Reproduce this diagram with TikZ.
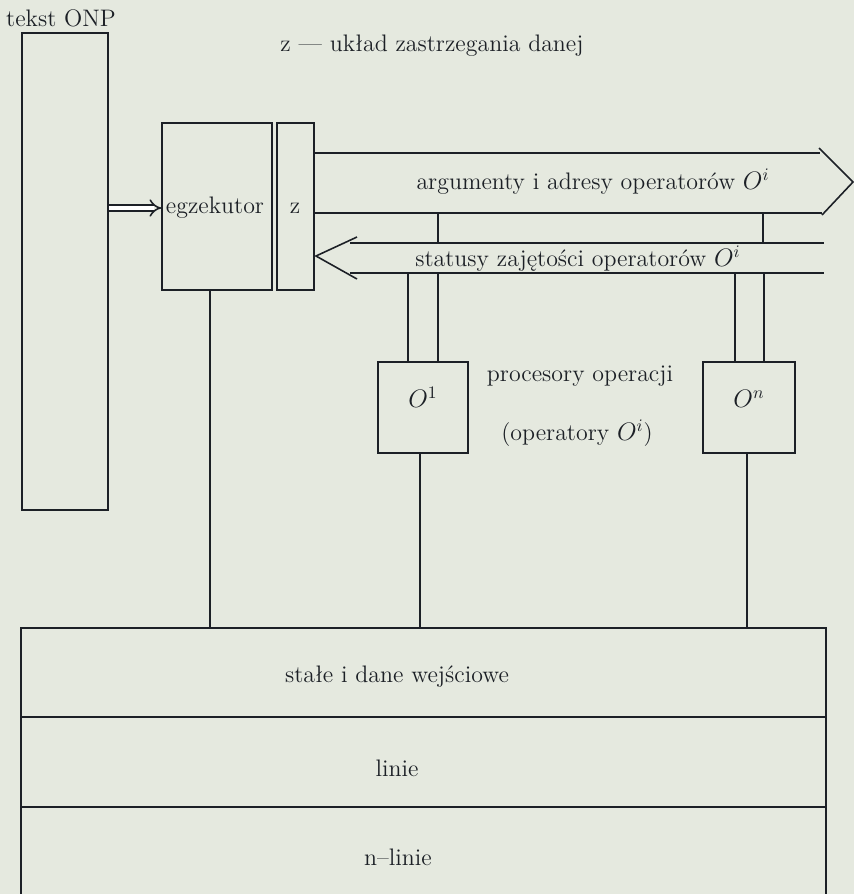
\documentclass[tikz,border=0pt]{standalone}
\usepackage{xcolor}
\usepackage{tikz}
\usetikzlibrary{positioning,arrows.meta,fit}

\definecolor{papier}{RGB}{229,233,223}
\definecolor{tusz}{RGB}{28,32,38}

\tikzset{
  blok/.style={draw=tusz, line width=0.9pt, inner sep=0pt},
  linia/.style={draw=tusz, line width=0.9pt},
}

\begin{document}
\begin{tikzpicture}[x=0.02cm, y=-0.02cm, every node/.style={text=tusz, font=\fontsize{13.6}{16}\selectfont}]
    \fill[papier] (0,0) rectangle (854,894);
    \useasboundingbox (0,0) rectangle (854,894);

    % Bloki
    \node[blok, fit={(22,33) (108,510)}] (onp) {};
    \node[blok, fit={(162,123) (272,290)}] (egz) {};
    \node[blok, fit={(277,123) (314,290)}] (zb) {};
    \node[blok, fit={(378,362) (468,453)}] (o1) {$O^1$};
    \node[blok, fit={(703,362) (795,453)}] (on) {$O^n$};
    \node[blok, fit={(21,628) (826,717)}] (stale) {};
    \node[blok, fit={(21,717) (826,807)}] (linie) {};
    \node[blok, fit={(21,807) (826,900)}] (nlinie) {};

    % Opisy
    \node (tonp) at (61,18) {tekst ONP};
    \node (tz) at (432,46) {z --- układ zastrzegania danej};
    \node (tegz) at (215,208) {egzekutor};
    \node (tzb) at (295,208) {z};
    \node (targ) at (593,182) {argumenty i adresy operatorów $O^i$};
    \node (tstat) at (578,259) {statusy zajętości operatorów $O^i$};
    \node (tproc) at (580,376) {procesory operacji};
    \node (topr) at (577,433) {(operatory $O^i$)};
    \node (tstale) at (397,677) {stałe i dane wejściowe};
    \node (tlinie) at (397,768) {linie};
    \node (tnlinie) at (398,857) {n--linie};

    % Pasmo argumentow (w prawo)
    \draw[linia] (zb.east |- 0,153) -- (820,153);
    \draw[linia] (zb.east |- 0,213) -- (822,213);
    \draw[linia] (819,148) -- (853,182) -- (822,215);

    % Pasmo statusow (w lewo)
    \draw[linia] (350,243) -- (824,243);
    \draw[linia] (350,273) -- (824,273);
    \draw[linia] (357,237) -- (316,256) -- (357,279);

    % Polaczenia
    \draw[linia, double, double distance=2.5pt, -{Implies[scale=1.3]}] (onp.east |- 0,208) -- (egz.west |- 0,208);
    \draw[linia] (438,213) -- (438,243);
    \draw[linia] (763,213) -- (763,243);
    \draw[linia] (408,273) -- (o1.north -| 408,0);
    \draw[linia] (438,273) -- (o1.north -| 438,0);
    \draw[linia] (735,273) -- (on.north -| 735,0);
    \draw[linia] (764,273) -- (on.north -| 764,0);
    \draw[linia] (egz.south -| 210,0) -- (stale.north -| 210,0);
    \draw[linia] (o1.south -| 420,0) -- (stale.north -| 420,0);
    \draw[linia] (on.south -| 747,0) -- (stale.north -| 747,0);
\end{tikzpicture}
\end{document}
